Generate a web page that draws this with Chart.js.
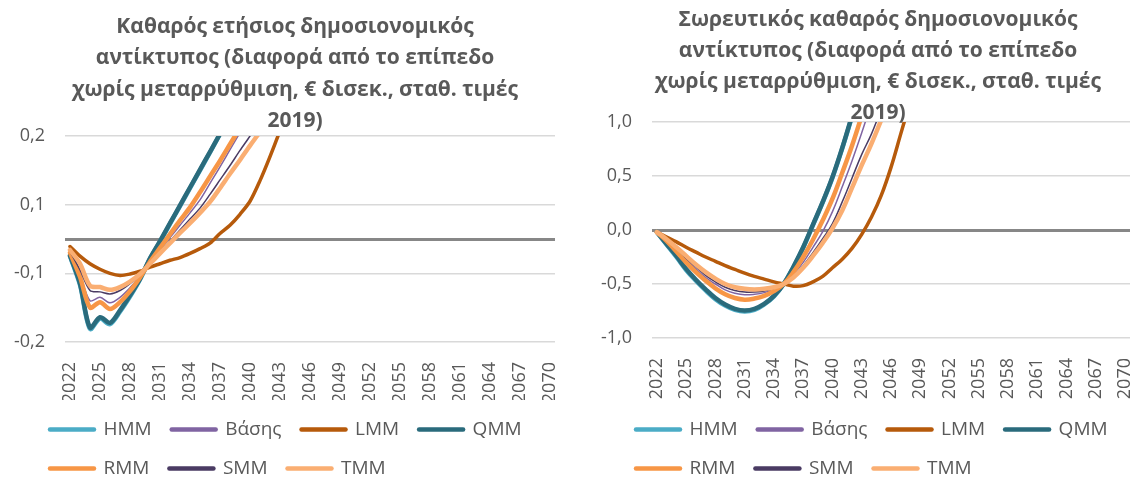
<!DOCTYPE html>
<html>
<head>
<meta charset="utf-8">
<script src="https://cdn.jsdelivr.net/npm/chart.js@4.4.1/dist/chart.umd.min.js"></script>
<style>
  html, body { margin: 0; padding: 0; background: #fff; overflow: hidden; }
  #annualChart { position: absolute; left: 0; top: 0; }
  #cumulativeChart { position: absolute; left: 575px; top: 0; }
</style>
</head>
<body>
<canvas id="annualChart" width="565" height="488"></canvas>
<canvas id="cumulativeChart" width="560" height="488"></canvas>
<script>
// categories
var years = [2022, 2023, 2024, 2025, 2026, 2027, 2028, 2029, 2030, 2031, 2032, 2033, 2034,
  2035, 2036, 2037, 2038, 2039, 2040, 2041, 2042, 2043, 2044, 2045, 2046, 2047, 2048,
  2049, 2050, 2051, 2052, 2053, 2054, 2055, 2056, 2057, 2058, 2059, 2060, 2061, 2062,
  2063, 2064, 2065, 2066, 2067, 2068, 2069, 2070];
var seriesNames = ["HMM", "Βάσης", "LMM", "QMM", "RMM", "SMM", "TMM"];
var seriesColors = ["#4BACC6", "#8064A2", "#B65A0B", "#2A6B7C", "#F79646", "#4A3B63", "#FAAE72"];
var seriesWidths = [4.5, 1.5, 3.5, 4.5, 4.5, 1.5, 4.5];

// y ticks (Excel shows them rounded to one decimal)
var annTicks = [-0.15, -0.05, 0, 0.05, 0.15];
var cumTicks = [-1, -0.5, 0, 0.5, 1];

// left chart - annual net fiscal impact (values past the top of the axis are clipped)
var annHMM  = [-0.025, -0.067, -0.131, -0.116, -0.124, -0.106, -0.084, -0.059, -0.029, -0.004, 0.022, 0.048, 0.074, 0.100, 0.126, 0.153, 0.180];
var annBase = [-0.020, -0.052, -0.090, -0.085, -0.093, -0.085, -0.071, -0.054, -0.034, -0.016, 0.002, 0.020, 0.038, 0.057, 0.081, 0.105, 0.130, 0.155, 0.180];
var annLMM  = [-0.011, -0.025, -0.036, -0.044, -0.050, -0.053, -0.051, -0.047, -0.041, -0.036, -0.031, -0.027, -0.021, -0.014, -0.006, 0.008, 0.020, 0.036, 0.055, 0.085, 0.120, 0.158, 0.200];
var annQMM  = [-0.024, -0.065, -0.129, -0.114, -0.122, -0.104, -0.082, -0.058, -0.028, -0.003, 0.023, 0.049, 0.075, 0.101, 0.127, 0.153, 0.179];
var annRMM  = [-0.020, -0.055, -0.100, -0.092, -0.102, -0.092, -0.076, -0.056, -0.033, -0.013, 0.007, 0.027, 0.046, 0.068, 0.091, 0.114, 0.138, 0.162, 0.186];
var annSMM  = [-0.018, -0.045, -0.075, -0.077, -0.080, -0.075, -0.065, -0.052, -0.035, -0.019, -0.003, 0.013, 0.029, 0.045, 0.065, 0.086, 0.107, 0.129, 0.150, 0.172, 0.195];
var annTMM  = [-0.016, -0.036, -0.068, -0.070, -0.074, -0.070, -0.062, -0.051, -0.036, -0.021, -0.006, 0.009, 0.023, 0.038, 0.054, 0.074, 0.095, 0.115, 0.136, 0.156, 0.177, 0.200];

// right chart - cumulative net fiscal impact
var cumHMM  = [-0.02, -0.135, -0.25, -0.37, -0.47, -0.56, -0.64, -0.70, -0.74, -0.755, -0.74, -0.69, -0.615, -0.50, -0.345, -0.165, 0.045, 0.255, 0.485, 0.755, 1.05, 1.37];
var cumBase = [-0.02, -0.095, -0.18, -0.27, -0.36, -0.44, -0.50, -0.555, -0.585, -0.60, -0.595, -0.58, -0.55, -0.50, -0.41, -0.30, -0.16, -0.015, 0.17, 0.40, 0.64, 0.90, 1.18];
var cumLMM  = [-0.02, -0.065, -0.11, -0.16, -0.205, -0.25, -0.29, -0.33, -0.365, -0.40, -0.43, -0.455, -0.48, -0.50, -0.52, -0.515, -0.48, -0.43, -0.35, -0.27, -0.17, -0.04, 0.12, 0.32, 0.58, 0.89, 1.20];
var cumQMM  = [-0.02, -0.13, -0.24, -0.36, -0.46, -0.55, -0.63, -0.69, -0.73, -0.745, -0.73, -0.685, -0.61, -0.50, -0.34, -0.16, 0.05, 0.26, 0.49, 0.76, 1.06, 1.38];
var cumRMM  = [-0.02, -0.10, -0.20, -0.30, -0.39, -0.47, -0.54, -0.595, -0.63, -0.645, -0.635, -0.61, -0.565, -0.50, -0.39, -0.25, -0.09, 0.09, 0.29, 0.53, 0.78, 1.06, 1.36];
var cumSMM  = [-0.02, -0.09, -0.17, -0.26, -0.34, -0.42, -0.48, -0.53, -0.56, -0.575, -0.575, -0.565, -0.54, -0.50, -0.43, -0.33, -0.21, -0.08, 0.06, 0.26, 0.48, 0.70, 0.89, 1.12];
var cumTMM  = [-0.02, -0.085, -0.16, -0.24, -0.32, -0.39, -0.45, -0.50, -0.53, -0.545, -0.55, -0.545, -0.53, -0.50, -0.44, -0.35, -0.24, -0.12, 0.015, 0.18, 0.39, 0.60, 0.80, 1.02, 1.26];

var textColor = "#595959";
var fontFamily = '"Open Sans", sans-serif';
Chart.defaults.font.family = fontFamily;
Chart.defaults.color = textColor;

// Excel-like multi-line title drawn over the plot; also moves the legend start
var titlePlugin = {
  id: "excelTitle",
  beforeDraw: function(chart, args, opts) {
    chart.legend.left = opts.legendLeft;
  },
  afterDraw: function(chart, args, opts) {
    var ctx = chart.ctx;
    ctx.save();
    ctx.font = "bold " + opts.size + "px " + fontFamily;
    ctx.fillStyle = textColor;
    ctx.textAlign = "center";
    ctx.textBaseline = "middle";
    opts.lines.forEach(function(t, i) {
      ctx.fillText(t, opts.x, opts.y + i * opts.step);
    });
    ctx.restore();
  }
};

function legendItems(chart) {
  var items = Chart.defaults.plugins.legend.labels.generateLabels(chart);
  items.forEach(function(item) {
    var ds = chart.data.datasets[item.datasetIndex];
    item.pointStyle = "line";
    item.strokeStyle = ds.borderColor;
    item.lineWidth = 4.5;
    item.lineCap = "round";
  });
  return items.sort(function(a, b) { return a.datasetIndex - b.datasetIndex; });
}

function isZero(v) { return Math.abs(v) < 1e-9; }

// one decimal, half away from zero, decimal comma
function fmt(v) {
  var r = Math.sign(v) * Math.round(Math.abs(v) * 10) / 10;
  return r.toFixed(1).replace(".", ",");
}

function makeChart(id, values, opts) {
  return new Chart(id, {
    type: "line",
    data: {
      labels: years,
      datasets: values.map(function(vals, i) {
        return {
          label: seriesNames[i],
          data: vals,
          borderColor: seriesColors[i],
          backgroundColor: seriesColors[i],
          borderWidth: seriesWidths[i],
          borderCapStyle: "round",
          borderJoinStyle: "round",
          pointRadius: 0,
          tension: opts.tension,
          fill: false,
          clip: 0,
          order: 6 - i
        };
      })
    },
    options: {
      responsive: false,
      animation: false,
      layout: { padding: opts.padding },
      scales: {
        x: {
          offset: true,
          grid: { display: false },
          border: { display: false },
          ticks: {
            autoSkip: false,
            maxRotation: 90,
            minRotation: 90,
            padding: 12,
            font: { size: 18 },
            callback: function(v, i) { return i % 3 === 0 ? this.getLabelForValue(v) : ""; }
          },
          afterFit: function(s) {
            s.height = opts.xHeight;
            s.paddingLeft = 0;
            s.paddingRight = 0;
          }
        },
        y: {
          min: opts.ticks[0],
          max: opts.ticks[opts.ticks.length - 1],
          border: { display: false },
          afterBuildTicks: function(s) {
            s.ticks = opts.ticks.map(function(v) { return { value: v }; });
          },
          grid: {
            drawTicks: false,
            color: function(c) { return c.tick && isZero(c.tick.value) ? "#878787" : "#D9D9D9"; },
            lineWidth: function(c) { return c.tick && isZero(c.tick.value) ? 3 : 1.5; }
          },
          ticks: {
            padding: 20,
            font: { size: 18 },
            callback: function(v) {
              if (opts.hideZero && isZero(v)) return "";
              return fmt(v);
            }
          },
          afterFit: function(s) { s.width = opts.yWidth; }
        }
      },
      plugins: {
        tooltip: { enabled: false },
        legend: {
          position: "bottom",
          align: "start",
          labels: {
            usePointStyle: true,
            pointStyleWidth: 44,
            padding: 20,
            color: textColor,
            font: { size: 19 },
            generateLabels: legendItems
          }
        },
        excelTitle: opts.title
      }
    },
    plugins: [titlePlugin]
  });
}

var titleTail = ["αντίκτυπος (διαφορά από το επίπεδο", "χωρίς μεταρρύθμιση, € δισεκ., σταθ. τιμές", "2019)"];

makeChart("annualChart", [annHMM, annBase, annLMM, annQMM, annRMM, annSMM, annTMM], {
  ticks: annTicks, hideZero: true, tension: 0.3,
  padding: { left: 0, right: 10, top: 136, bottom: 0 },
  yWidth: 65, xHeight: 58,
  title: { lines: ["Καθαρός ετήσιος δημοσιονομικός"].concat(titleTail), x: 295, y: 27, step: 31.5, size: 21, legendLeft: 30 }
});

makeChart("cumulativeChart", [cumHMM, cumBase, cumLMM, cumQMM, cumRMM, cumSMM, cumTMM], {
  ticks: cumTicks, hideZero: false, tension: 0.4,
  padding: { left: 0, right: 5, top: 122, bottom: 0 },
  yWidth: 77, xHeight: 62,
  title: { lines: ["Σωρευτικός καθαρός δημοσιονομικός"].concat(titleTail), x: 303, y: 20, step: 31, size: 21, legendLeft: 41 }
});
</script>
</body>
</html>
